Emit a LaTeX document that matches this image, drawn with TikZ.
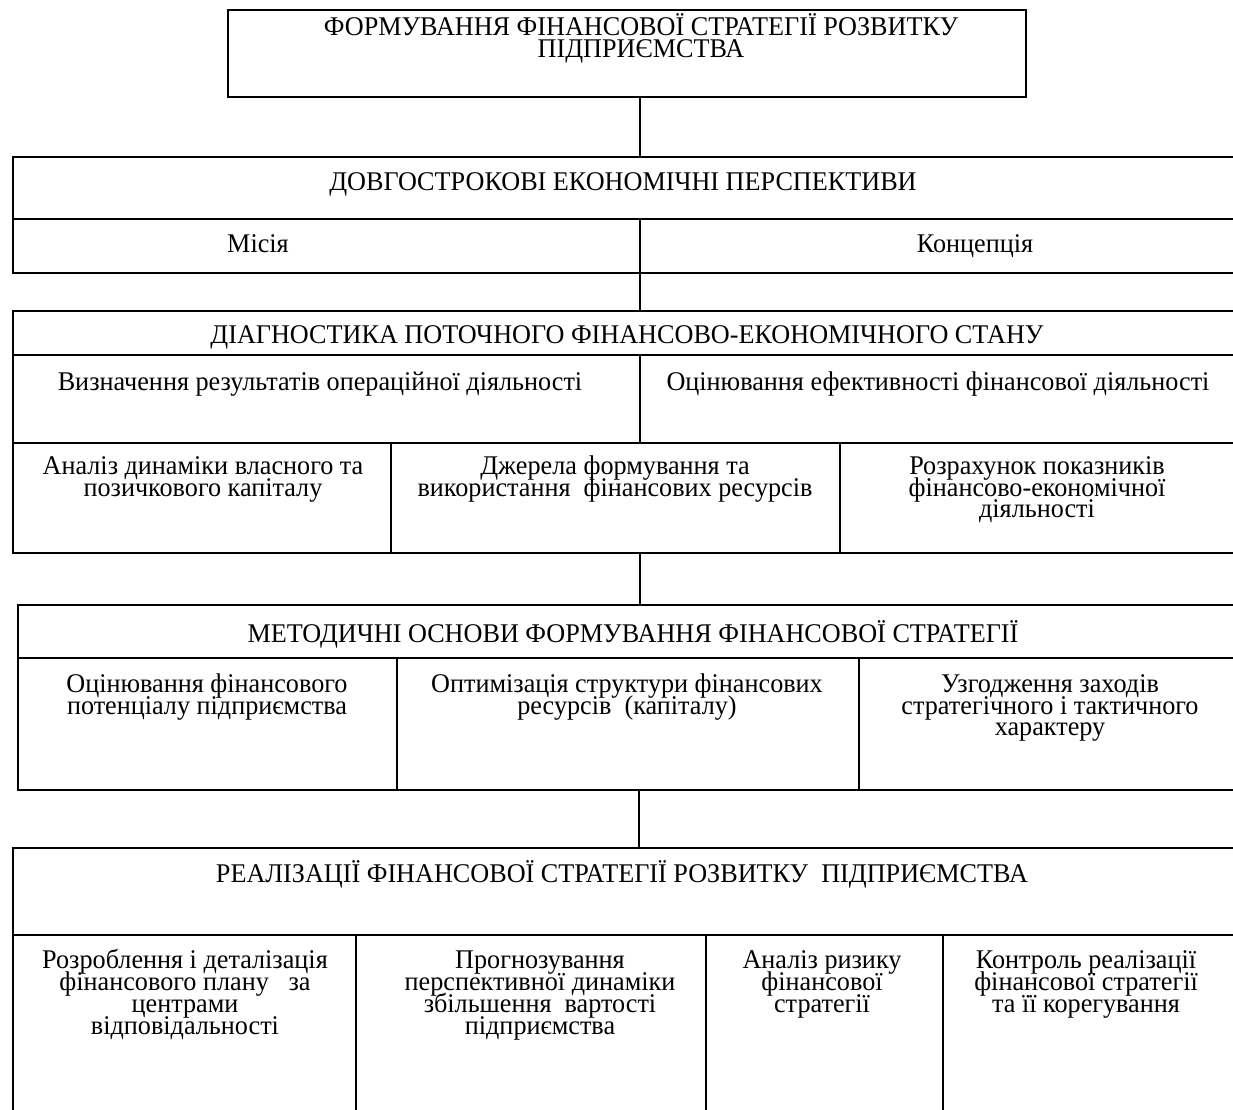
\documentclass[tikz,border=0pt]{standalone}
\usepackage{fontspec}
\setmainfont{Liberation Serif}[FakeStretch=0.97]
\newcommand\mytightfont{\fontsize{27}{21.7}\selectfont\lineskiplimit=-100pt\relax\lineskip=0pt\relax}
\begin{document}
\begin{tikzpicture}[x=1pt,y=-1pt,
  box/.style={line width=2.7pt},
  link/.style={line width=1.6pt},
  txt/.style={font=\mytightfont, align=center, inner sep=0pt, anchor=base}]
\useasboundingbox[fill=white] (0,0) rectangle (1233,1109);
\clip (0,0) rectangle (1233,1109);
% ---------- box 1
\draw[box] (228,10) rectangle (1026,97);
\node[txt] (t1) at (641,57) {ФОРМУВАННЯ ФІНАНСОВОЇ СТРАТЕГІЇ РОЗВИТКУ\\ПІДПРИЄМСТВА};
% ---------- box 2
\draw[box] (13,157) rectangle (1260,273);
\draw[box] (13,219) -- (1260,219);
\draw[box] (640,219) -- (640,273);
\node[txt] (t2) at (623,190) {ДОВГОСТРОКОВІ ЕКОНОМІЧНІ ПЕРСПЕКТИВИ};
\node[txt] (t2a) at (258,252) {Місія};
\node[txt] (t2b) at (975,252) {Концепція};
% ---------- box 3
\draw[box] (13,311) rectangle (1260,553);
\draw[box] (13,355) -- (1260,355);
\draw[box] (13,443) -- (1260,443);
\draw[box] (640,355) -- (640,443);
\draw[box] (391,443) -- (391,553);
\draw[box] (840,443) -- (840,553);
\node[txt] (t3) at (627,343) {ДІАГНОСТИКА ПОТОЧНОГО ФІНАНСОВО-ЕКОНОМІЧНОГО СТАНУ};
\node[txt] (t3a) at (320,390) {Визначення результатів операційної діяльності};
\node[txt] (t3b) at (938,390) {Оцінювання ефективності фінансової діяльності};
\node[txt] (t3c) at (203,496) {Аналіз динаміки власного та\\позичкового капіталу};
\node[txt] (t3d) at (615,496) {Джерела формування та\\використання\ \ фінансових ресурсів};
\node[txt] (t3e) at (1037,517.7) {Розрахунок показників\\фінансово-економічної\\діяльності};
% ---------- box 4
\draw[box] (18,605) rectangle (1260,790);
\draw[box] (18,658) -- (1260,658);
\draw[box] (397,658) -- (397,790);
\draw[box] (859,658) -- (859,790);
\node[txt] (t4) at (633,642) {МЕТОДИЧНІ ОСНОВИ ФОРМУВАННЯ ФІНАНСОВОЇ СТРАТЕГІЇ};
\node[txt] (t4a) at (207,714) {Оцінювання фінансового\\потенціалу підприємства};
\node[txt] (t4b) at (627,714) {Оптимізація структури фінансових\\ресурсів\ \ (капіталу)};
\node[txt] (t4c) at (1050,735.7) {Узгодження заходів\\стратегічного і тактичного\\характеру};
% ---------- box 5
\draw[box] (13,848) rectangle (1260,1140);
\draw[box] (13,935) -- (1260,935);
\draw[box] (356,935) -- (356,1140);
\draw[box] (706,935) -- (706,1140);
\draw[box] (943,935) -- (943,1140);
\node[txt] (t5) at (622,882) {РЕАЛІЗАЦІЇ ФІНАНСОВОЇ СТРАТЕГІЇ РОЗВИТКУ\ \ ПІДПРИЄМСТВА};
\node[txt] (t5a) at (185,1034) {Розроблення і деталізація\\фінансового плану\ \ \ за\\центрами\\відповідальності};
\node[txt] (t5b) at (540,1034) {Прогнозування\\перспективної динаміки\\збільшення\ \ вартості\\підприємства};
\node[txt] (t5c) at (822,1012.3) {Аналіз ризику\\фінансової\\стратегії};
\node[txt] (t5d) at (1086,1012.3) {Контроль реалізації\\фінансової стратегії\\та її корегування};
% ---------- connectors
\coordinate (c1a) at (640,97);  \coordinate (c1b) at (640,157);
\coordinate (c2a) at (640,273); \coordinate (c2b) at (640,311);
\coordinate (c3a) at (640,553); \coordinate (c3b) at (640,605);
\coordinate (c4a) at (639,790); \coordinate (c4b) at (639,848);
\draw[link] (c1a) -- (c1b);
\draw[link] (c2a) -- (c2b);
\draw[link] (c3a) -- (c3b);
\draw[link] (c4a) -- (c4b);
\end{tikzpicture}
\end{document}
